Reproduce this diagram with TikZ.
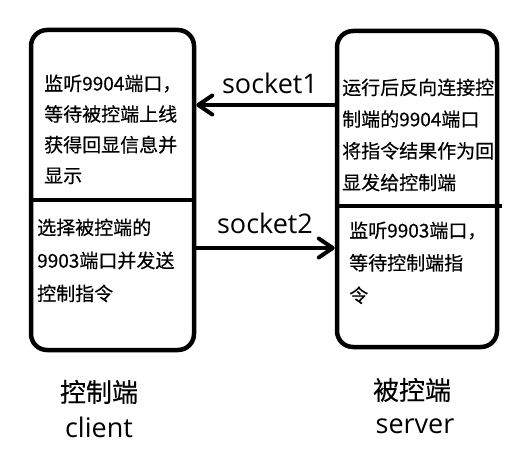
\documentclass[tikz,border=0pt]{standalone}
\usepackage{fontspec}
\setmainfont{Noto Sans CJK SC}[FakeBold=0.4]
\newfontfamily\latinfont{Open Sans}
\usetikzlibrary{arrows.meta}
\begin{document}
\begin{tikzpicture}[x=1pt,y=-1pt,
  box/.style={draw,line width=4.5pt,rounded corners=16pt,inner sep=0pt},
  divider/.style={line width=4.5pt},
  arr/.style={line width=4pt,-{Straight Barb[length=14pt,width=19pt,round]}},
  body/.style={inner sep=0pt,align=left,anchor=north west},
  lab/.style={inner sep=0pt,font=\latinfont\fontsize{27}{30}\selectfont},
  cjklab/.style={inner sep=0pt,font=\fontsize{26}{30}\selectfont}]
\useasboundingbox (0,0) rectangle (529,452);
% boxes
\node[box,minimum width=163pt,minimum height=320pt] (client) at (112.5,190) {};
\node[box,minimum width=160pt,minimum height=316pt] (server) at (417,189) {};
\draw[divider] (client.west |- 0,200) -- (client.east |- 0,200);
\draw[divider] (server.west |- 0,206) -- ([xshift=3pt]server.east |- 0,206);
% texts
\node[body,font=\fontsize{19}{30.7}\selectfont] (ct) at (44,74.4)
  {监听9904端口，\\等待被控端上线\\获得回显信息并\\显示};
\node[body,font=\fontsize{19}{33}\selectfont] (cb) at (37,218.4)
  {选择被控端的\\9903端口并发送\\控制指令};
\node[body,font=\fontsize{19}{31.7}\selectfont] (st) at (342,78.4)
  {运行后反向连接控\\制端的9904端口\\将指令结果作为回\\显发给控制端};
\node[body,font=\fontsize{19}{32.5}\selectfont] (sb) at (349,221.4)
  {监听9903端口，\\等待控制端指\\令};
% arrows
\coordinate (s1a) at (server.west |- 0,105);
\coordinate (s1b) at (client.east |- 0,105);
\coordinate (s2a) at (client.east |- 0,248);
\coordinate (s2b) at (server.west |- 0,248);
\draw[arr] (s1a) -- (s1b);
\draw[arr] (s2a) -- (s2b);
\node[lab,anchor=base] (sk1) at (270,93) {socket1};
\node[lab,anchor=base] (sk2) at (265,233) {socket2};
% labels
\node[cjklab] (cn) at (99,392) {控制端};
\node[lab,anchor=base] (cl) at (99,437) {client};
\node[cjklab] (sn) at (412,390) {被控端};
\node[lab,anchor=base] (sv) at (415,433) {server};
\end{tikzpicture}
\end{document}
